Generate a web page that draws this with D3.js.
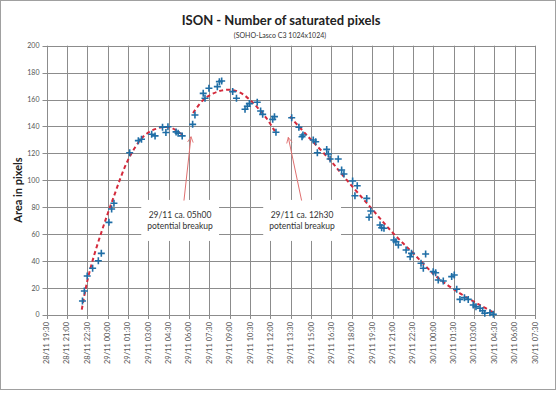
<!DOCTYPE html>
<html>
<head>
<meta charset="utf-8">
<script src="https://cdn.jsdelivr.net/npm/d3@7"></script>
<style>
  body { margin: 0; background: #fff; }
  text { font-family: Lato, "Liberation Sans", sans-serif; }
</style>
</head>
<body>
<div id="chart"></div>
<script>
// x tick labels (every 1.5 h)
const tickLabels = ["28/11 19:30","28/11 21:00","28/11 22:30","29/11 00:00","29/11 01:30","29/11 03:00",
  "29/11 04:30","29/11 06:00","29/11 07:30","29/11 09:00","29/11 10:30","29/11 12:00","29/11 13:30",
  "29/11 15:00","29/11 16:30","29/11 18:00","29/11 19:30","29/11 21:00","29/11 22:30","30/11 00:00",
  "30/11 01:30","30/11 03:00","30/11 04:30","30/11 06:00","30/11 07:30"];
const yTicks = [0, 20, 40, 60, 80, 100, 120, 140, 160, 180, 200];

// observations: hours after 28/11 19:30, saturated pixel area
const obsHours = [2.65,2.79,3.0,3.4,3.82,4.04,4.6,4.8,4.97,6.13,6.77,7.0,7.75,8.0,8.55,8.8,8.95,9.55,9.7,10.0,
  10.77,10.94,11.55,11.68,11.97,12.59,12.74,12.91,13.72,14.0,14.63,14.8,14.95,15.53,15.78,15.93,16.67,16.8,16.91,
  18.07,18.6,18.83,18.9,19.66,19.84,19.96,20.65,20.77,20.9,21.5,21.75,21.92,22.56,22.73,22.9,23.6,23.77,23.9,
  24.58,24.7,24.87,25.6,25.75,25.93,26.5,26.8,26.9,27.6,27.77,27.94,28.5,28.68,28.87,29.24,29.86,30.05,30.23,
  30.47,30.8,31.08,31.45,31.65,31.95,32.14,32.3,32.68,32.93];
const obsPixels = [10.4,17.8,29,34.7,40.3,45.8,68.8,78.7,83,120.5,129.5,130.5,134.2,133,139.5,135.5,139.8,136,135,133,
  141.6,148.5,164.6,161,168.4,169.6,173.3,173.8,165.9,161,152.8,155,157,158,151.5,149,145.3,147.3,135.7,
  146.5,139.4,132.4,133.7,130,128.7,120.5,123,119.6,115.9,115.9,107.7,104.7,99.5,88.6,96,86.6,72.6,77.2,
  66.8,64.8,64.4,55.7,54.4,52,48.3,43.3,45.8,38.4,34.7,45.3,32.2,31.4,26,25.3,28.5,29.7,19.1,
  11.6,12.9,11.6,7.4,6.2,5,3.2,1.3,1.7,0.5];

// trend lines (three pieces)
const trend1Hours = [2.6,3.0,3.5,4.0,4.5,5.0,5.5,6.0,6.5,7.0,7.5,8.0,8.5,9.0,9.5,10.0];
const trend1Pixels = [4,25,44,60,75,89,103,115,124,131,135.5,138,139.5,139.5,137.5,134];
const trend2Hours = [10.8,11.55,12.3,13.03,13.77,14.38,15.0,15.6,16.22,16.7,16.91];
const trend2Pixels = [150,159.7,164.6,167,167,164.6,159.7,153.5,146,138.6,135];
const trend3Hours = [17.94,19.17,20.9,22.12,23.84,25.44,27.03,28.75,30.47,31.95,33.05];
const trend3Pixels = [147.3,133.7,115,100.3,80.4,61.9,45.8,28.5,16.1,7.4,1.3];

// annotations
const noteLines = [["29/11 ca. 05h00", "potential breakup"], ["29/11 ca. 12h30", "potential breakup"]];
const noteHours = [9.84, 18.83];
const noteBaseHours = [10.13, 18.8];
const noteTipHours = [10.65, 17.82];
const noteTipPixels = [132.4, 131.9];

const width = 560, height = 408;
const margins = { top: 45.7, bottom: 93, left: 46.5, right: 25 };

const svg = d3.select("#chart").append("svg")
  .attr("width", width).attr("height", height);

// chart frame
svg.append("rect").attr("x", 0.5).attr("y", 0.5).attr("width", 555).attr("height", 389)
  .attr("fill", "#fff").attr("stroke", "#a0a0a0");

const parseT = d3.timeParse("%d/%m %H:%M");
const tickTimes = tickLabels.map(parseT);
const t0 = tickTimes[0];
const toTime = h => new Date(+t0 + h * 3600e3);

const x = d3.scaleTime()
  .domain([tickTimes[0], tickTimes[tickTimes.length - 1]])
  .range([margins.left, width - margins.right]);
const y = d3.scaleLinear()
  .domain([0, 200])
  .range([height - margins.bottom, margins.top]);

// grid
svg.append("g").selectAll("line").data(yTicks).join("line")
  .attr("x1", margins.left - 4).attr("x2", x.range()[1])
  .attr("y1", d => Math.round(y(d)) + 0.5).attr("y2", d => Math.round(y(d)) + 0.5)
  .attr("stroke", "#8c8c8c");
svg.append("g").selectAll("line").data(tickTimes).join("line")
  .attr("x1", d => Math.round(x(d)) + 0.5).attr("x2", d => Math.round(x(d)) + 0.5)
  .attr("y1", y(200)).attr("y2", y(0) + 4)
  .attr("stroke", "#8c8c8c");

// y tick labels
svg.append("g").selectAll("text").data(yTicks).join("text")
  .attr("x", margins.left - 7).attr("y", d => y(d)).attr("dy", "0.35em")
  .attr("text-anchor", "end").attr("font-size", 7).attr("fill", "#555")
  .text(d => d);

// x tick labels
svg.append("g").selectAll("text").data(tickTimes).join("text")
  .attr("transform", d => `translate(${x(d) + 2.5},${y(0) + 7}) rotate(-90)`)
  .attr("text-anchor", "end").attr("font-size", 7.5).attr("fill", "#555")
  .text((d, i) => tickLabels[i]);

// annotation boxes and text
noteLines.forEach((lines, i) => {
  const g = svg.append("g");
  const box = g.append("rect").attr("fill", "#fff");
  const t = g.append("text").attr("font-size", 8.5).attr("fill", "#333").attr("text-anchor", "middle");
  lines.forEach((s, k) => t.append("tspan")
    .attr("x", x(toTime(noteHours[i])))
    .attr("y", y(74.3) + k * 11)
    .attr("dy", "0.35em")
    .text(s));
  const bb = t.node().getBBox();
  box.attr("x", bb.x - 6).attr("y", bb.y - 10).attr("width", bb.width + 12).attr("height", bb.height + 20);
});

// arrows
svg.append("defs").append("marker")
  .attr("id", "arrow").attr("viewBox", "0 0 10 10").attr("refX", 9).attr("refY", 5)
  .attr("markerWidth", 7).attr("markerHeight", 7).attr("orient", "auto")
  .append("path").attr("d", "M1,1L9,5L1,9").attr("fill", "none").attr("stroke", "#e07070").attr("stroke-width", 1.2);
svg.append("g").selectAll("line").data(noteTipHours).join("line")
  .attr("x1", (d, i) => x(toTime(noteBaseHours[i]))).attr("y1", y(85))
  .attr("x2", d => x(toTime(d))).attr("y2", (d, i) => y(noteTipPixels[i]))
  .attr("stroke", "#e07070").attr("marker-end", "url(#arrow)");

// trend lines
const line = d3.line().x(d => x(toTime(d[0]))).y(d => y(d[1])).curve(d3.curveCatmullRom);
[[trend1Hours, trend1Pixels], [trend2Hours, trend2Pixels], [trend3Hours, trend3Pixels]].forEach(([hs, vs]) => {
  svg.append("path").datum(hs.map((h, i) => [h, vs[i]]))
    .attr("d", line).attr("fill", "none")
    .attr("stroke", "#d42a3c").attr("stroke-width", 2).attr("stroke-dasharray", "4,3");
});

// observation markers
svg.append("g").selectAll("path").data(obsHours).join("path")
  .attr("transform", (d, i) => `translate(${x(toTime(d))},${y(obsPixels[i])})`)
  .attr("d", "M-3.5,0H3.5M0,-3.5V3.5")
  .attr("stroke", "#1f6ea6").attr("stroke-width", 1.6);

// titles
svg.append("text").attr("x", 281).attr("y", 25).attr("text-anchor", "middle")
  .attr("font-size", 13).attr("font-weight", "bold").attr("fill", "#222")
  .text("ISON - Number of saturated pixels");
svg.append("text").attr("x", 280).attr("y", 38).attr("text-anchor", "middle")
  .attr("font-size", 7).attr("fill", "#333")
  .text("(SOHO-Lasco C3 1024x1024)");
svg.append("text").attr("transform", "translate(22,190) rotate(-90)").attr("text-anchor", "middle")
  .attr("font-size", 11).attr("font-weight", "bold").attr("fill", "#222")
  .text("Area in pixels");
</script>
</body>
</html>
